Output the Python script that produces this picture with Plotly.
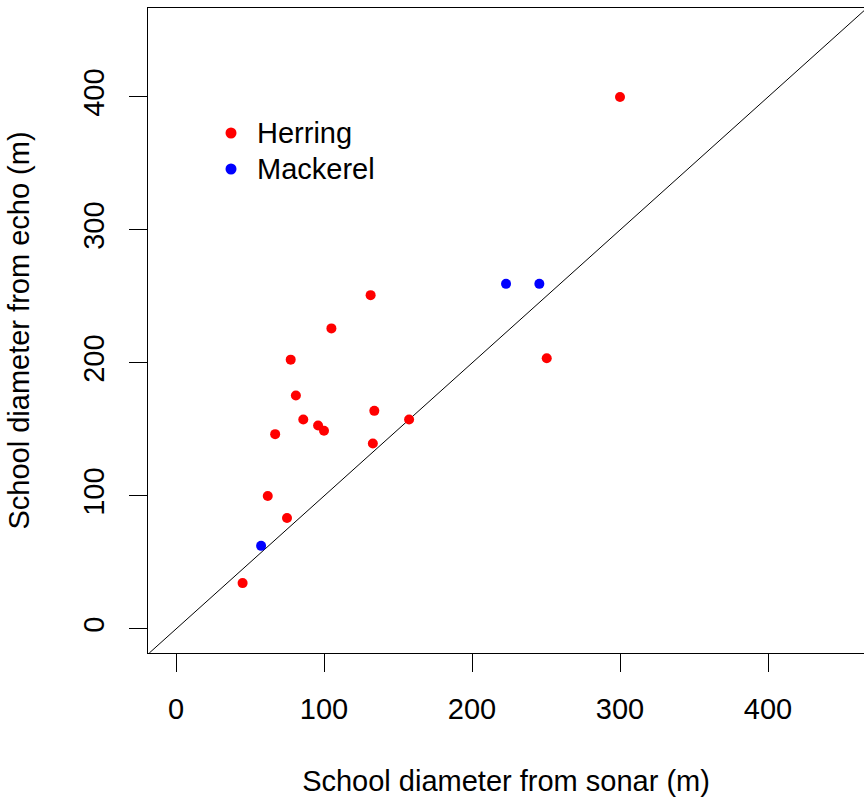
import plotly.graph_objects as go

# Data
herring_sonar = [131.5, 105, 77.5, 81, 134, 86, 96, 100, 157.5, 67, 133, 62, 75, 45, 250.5, 300]
herring_echo = [251, 226, 202.5, 175.5, 164, 157.5, 153, 149, 157.5, 146.5, 139.5, 100, 83.5, 34.5, 203.5, 400]
mackerel_sonar = [57.5, 223, 245.5]
mackerel_echo = [62.5, 259.5, 259.5]
tick_vals = [0, 100, 200, 300, 400]
series_names = ["Herring", "Mackerel"]
series_colors = ["#ff0000", "#0000ff"]

FONT = "Liberation Sans, Arial, sans-serif"
FS = 29

xr = [-18.92, 464.86]
yr = [-18.05, 466.9]

fig = go.Figure()
for name, xs, ys, col in zip(series_names, [herring_sonar, mackerel_sonar],
                             [herring_echo, mackerel_echo], series_colors):
    fig.add_trace(go.Scatter(x=xs, y=ys, mode="markers", name=name, showlegend=False,
                             marker=dict(color=col, size=10, line=dict(width=0))))

# identity line y = x
lo = max(xr[0], yr[0])
hi = min(xr[1], yr[1])
fig.add_shape(type="line", xref="x", yref="y", x0=lo, y0=lo, x1=hi, y1=hi,
              line=dict(color="black", width=1), layer="below")

# custom legend (R-style, no box)
leg_sym_x = (231 - 148) / 716
leg_txt_x = (255 - 148) / 716
leg_ys = [(653 - 133) / 645, (653 - 169) / 645]
for name, col, ly in zip(series_names, series_colors, leg_ys):
    fig.add_shape(type="circle", xref="paper", yref="paper", xsizemode="pixel", ysizemode="pixel",
                  xanchor=leg_sym_x, yanchor=ly, x0=-5.5, x1=5.5, y0=-5.5, y1=5.5,
                  fillcolor=col, line=dict(width=0))
    fig.add_annotation(xref="paper", yref="paper", x=leg_txt_x, y=ly, text=name,
                       showarrow=False, xanchor="left", yanchor="middle",
                       font=dict(family=FONT, size=FS, color="black"))

fig.update_layout(
    width=864, height=799,
    margin=dict(l=148, r=0, t=8, b=146),
    paper_bgcolor="white", plot_bgcolor="white",
    font=dict(family=FONT, size=FS, color="black"),
    showlegend=False,
    xaxis=dict(range=xr, tickvals=tick_vals, ticks="outside", ticklen=18, tickwidth=1,
               tickcolor="black", showline=True, linecolor="black", linewidth=1.3, mirror=True,
               showgrid=False, zeroline=False, ticklabelstandoff=12,
               tickfont=dict(family=FONT, size=FS, color="black"),
               title=dict(text="School diameter from sonar (m)", standoff=46,
                          font=dict(family=FONT, size=FS, color="black"))),
    yaxis=dict(range=yr, tickvals=tick_vals, ticks="outside", ticklen=18, tickwidth=1,
               tickcolor="black", showline=True, linecolor="black", linewidth=1.3, mirror=False,
               showgrid=False, zeroline=False, tickangle=-90, ticklabelstandoff=13,
               tickfont=dict(family=FONT, size=FS, color="black"),
               title=dict(text="School diameter from echo (m)", standoff=40,
                          font=dict(family=FONT, size=FS, color="black"))),
)

fig.write_html("out.html")
